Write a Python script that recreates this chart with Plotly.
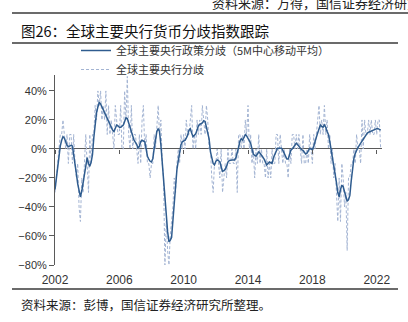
import plotly.graph_objects as go
import pandas as pd

# Monthly divergence readings (%), Jan 2002 - Apr 2022
raw_divergence = [
    -30, -20, -10, 0, 10, 10, 20, 10, 0, 10, -10, 10,          # 2002
    10, -10, 10, -10, -20, -10, -40, -50, -20, -30, -10, 10,   # 2003
    -10, -30, 10, -10, 10, 10, 30, 20, 40, 30, 40, 20,         # 2004
    30, 20, 40, 10, 30, 10, 20, 10, 0, 30, 20, 10,             # 2005
    10, 30, 0, 0, 40, 20, 50, 10, 0, 30, 0, 10,                # 2006
    10, 0, -10, 10, -10, 20, 30, 0, 10, -10, -10, -20,         # 2007
    -10, -10, 10, 0, 20, 30, 10, 20, -10, -20, -80, -50,       # 2008
    -70, -80, -60, -50, -40, -20, -30, -10, 0, -10, 10, 0,     # 2009
    10, 0, 20, 10, 10, 20, 30, 0, 10, 0, 20, 10,               # 2010
    20, 10, 30, 20, 10, 30, 20, 0, 0, -20, -30, -10,           # 2011
    -10, 0, -10, -20, 0, -30, -20, -10, -20, 0, -10, -10,      # 2012
    0, -10, -10, 0, -30, 10, 10, 0, 10, 0, 20, 10,             # 2013
    30, 0, 10, -10, 0, -20, 0, -10, 10, -10, 0, -10,           # 2014
    -10, -20, 0, -20, -10, -20, 0, -10, -10, 10, 10, -10,      # 2015
    10, 0, -10, 0, -10, -10, -20, 0, -10, 10, 10, 0,           # 2016
    10, 0, 10, 0, -10, 10, -10, -10, 0, -10, 10, 0,            # 2017
    -10, 10, 0, 10, 20, 30, 10, 20, 10, 30, 10, 20,            # 2018
    0, 10, -10, 0, -20, -10, -30, -50, -20, -50, -10, -20,     # 2019
    -40, -30, -70, -20, -20, -10, -10, 0, -10, 10, 0, 0,       # 2020
    -10, 20, 0, 20, 10, 10, 20, 10, 20, 10, 10, 20,            # 2021
    10, 20, 20, 0,                                             # 2022
]

# 5-month centred moving average of the policy divergence (%)
smoothed_divergence = [
    -28, -20, -12, -4, 2, 6, 8.5, 7.5, 5, 2.5, 1.6, 2,                       # 2002
    2.5, 2, -3, -10, -17, -24, -30, -33, -29, -23, -18, -12,                 # 2003
    -6, -10, -12, -9, -4, 8, 19, 25, 29, 32, 31, 29,                         # 2004
    27, 25, 23, 22, 20, 17, 15, 13, 12, 14, 16.5, 16,                        # 2005
    15, 15, 16, 16.5, 19, 21.5, 21, 18, 16, 12, 8.5, 6,                      # 2006
    4.5, 3, 0.5, 2, 5, 6, 5.5, 5, 0, -5, -7, -8.5,                           # 2007
    -9, -6.5, 0, 8, 12, 14, 12, 3, -10, -20, -35, -48,                       # 2008
    -57, -64, -63, -61, -50, -35, -24, -14, -8, -3, 3, 5,                    # 2009
    5.5, 6, 7.5, 9.5, 13, 14, 11, 8.5, 9.5, 10.5, 13, 16,                    # 2010
    17, 17.5, 18, 19.5, 19, 15, 11, 7, -2, -6, -10, -11,                     # 2011
    -8.5, -7.6, -8, -9, -12, -15.5, -15, -14, -12, -9, -8, -7.6,             # 2012
    -7.6, -7.6, -7.6, -6, -3, 1, 5.5, 7, 6, 8, 10, 9,                        # 2013
    7.5, 6, 4, 0, -3.5, -4.5, -5, -3.5, -2, -3, -4, -5.5,                    # 2014
    -7, -9, -11, -10, -9, -9.5, -10, -6, -3.5, -1.5, 0.5, 0.5,               # 2015
    0.5, 0.5, -1, -3.5, -5.5, -7, -7, -4, -0.7, 0, 1.5, 2.5,                 # 2016
    4, 3, 1.6, 0.5, -0.5, -1, -2, -3.5, -3, -1.5, 0.5, 0,                    # 2017
    -0.7, 2, 6, 8, 11, 14, 16.5, 15.5, 15, 16.5, 15, 12,                     # 2018
    10, 5, 0, -5, -11, -17, -23, -30, -33, -28, -25, -26,                    # 2019
    -30, -33, -36, -35, -32, -22, -13, -6.5, -3, -0.7, 1, 2.5,               # 2020
    4, 5, 7, 8.5, 10, 11, 11.5, 12, 12.5, 13, 13, 13.5,                      # 2021
    14, 14, 13.5, 13,                                                        # 2022
]

year_ticks = ["2002", "2006", "2010", "2014", "2018", "2022"]
pct_ticks = [-80, -60, -40, -20, 0, 20, 40]
pct_labels = ["−80%", "−60%", "−40%", "−20%", "0%", "20%", "40%"]

dates = pd.date_range("2002-01-01", periods=len(raw_divergence), freq="MS")
tick_dates = [f"{y}-01-01" for y in year_ticks]
x_range = ["2002-01-01", "2022-05-01"]
y_range = [-80, 51]

W, H = 408, 322
L, R, T, B = 55, 26, 75, 57
PW, PH = W - L - R, H - T - B


def px(x):
    return (x - L) / PW


def py(y):
    return (H - B - y) / PH


CJK = "Noto Sans CJK SC"
LAT = "Liberation Sans, Arial, sans-serif"
AXIS_GREY = "#5a5a5a"

fig = go.Figure()

fig.add_trace(go.Scatter(
    x=dates, y=smoothed_divergence, xaxis="x2", yaxis="y",
    mode="lines", name="全球主要央行政策分歧（5M中心移动平均）",
    line=dict(color="#2f5c8f", width=1.5),
))
fig.add_trace(go.Scatter(
    x=dates, y=raw_divergence, xaxis="x", yaxis="y",
    mode="lines", name="全球主要央行分歧",
    line=dict(color="#a3b4d3", width=1, dash="3px,2px"),
))

zero_pos = (0 - y_range[0]) / (y_range[1] - y_range[0])

fig.update_layout(
    width=W, height=H,
    margin=dict(l=L, r=R, t=T, b=B),
    paper_bgcolor="white", plot_bgcolor="white",
    showlegend=True,
    legend=dict(
        x=px(76), y=py(36), xanchor="left", yanchor="top",
        bgcolor="rgba(0,0,0,0)", font=dict(family=CJK, size=11, color="#333"),
        tracegroupgap=0, itemwidth=30,
    ),
    xaxis=dict(
        type="date", range=x_range, tickvals=tick_dates, ticktext=year_ticks,
        showline=False, showgrid=False, zeroline=False, ticks="",
        tickfont=dict(family=LAT, size=12, color="#333"),
        ticklabelstandoff=6,
    ),
    xaxis2=dict(
        type="date", range=x_range, overlaying="x", anchor="free",
        position=zero_pos, side="bottom",
        tickvals=tick_dates, showticklabels=False,
        showline=False, showgrid=False, zeroline=False,
        ticks="outside", ticklen=4, tickwidth=1, tickcolor=AXIS_GREY,
    ),
    yaxis=dict(
        range=y_range, tickvals=pct_ticks, ticktext=pct_labels,
        showline=True, linecolor=AXIS_GREY, linewidth=1,
        ticks="outside", ticklen=5, tickcolor=AXIS_GREY,
        showgrid=False,
        zeroline=True, zerolinecolor=AXIS_GREY, zerolinewidth=1.3,
        tickfont=dict(family=LAT, size=11, color="#333"),
    ),
)

# Report header and footer rules
rule = dict(type="line", xref="paper", yref="paper",
            line=dict(color="#3a3a3a", width=1.5))
fig.add_shape(**rule, x0=px(12), x1=px(408), y0=py(13), y1=py(13))
fig.add_shape(**rule, x0=px(12), x1=px(398), y0=py(43), y1=py(43))
fig.add_shape(**rule, x0=px(12), x1=px(398), y0=py(289), y1=py(289))

fig.add_annotation(
    text="资料来源：万得，国信证券经济研究所整理", xref="paper", yref="paper",
    x=px(210), y=py(3), xanchor="left", yanchor="middle", showarrow=False,
    font=dict(family=CJK, size=13, color="#222"),
)
fig.add_annotation(
    text="图26：全球主要央行货币分歧指数跟踪", xref="paper", yref="paper",
    x=px(19), y=py(31), xanchor="left", yanchor="middle", showarrow=False,
    font=dict(family=CJK, size=14.5, color="#111"),
)
fig.add_annotation(
    text="资料来源：彭博，国信证券经济研究所整理。", xref="paper", yref="paper",
    x=px(19), y=py(304), xanchor="left", yanchor="middle", showarrow=False,
    font=dict(family=CJK, size=12.5, color="#222"),
)

fig.write_html("out.html")
